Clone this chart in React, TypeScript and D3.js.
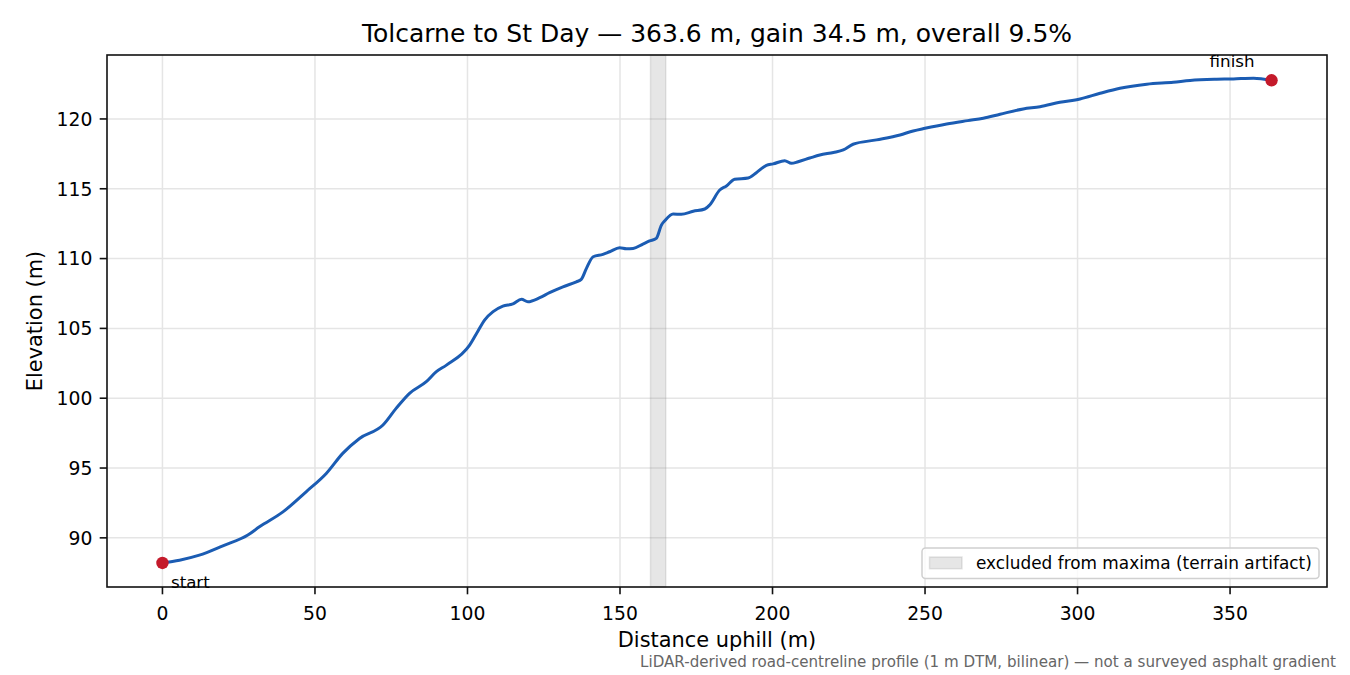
import React from "react";
import * as d3 from "d3";

const distances = [
  0, 5.6, 12.1, 19.8, 28, 31.8, 39.5, 47.1, 53.7, 59.1, 64.6, 72.3, 76.6, 81, 86.5, 89.8, 93.1,
  100.7, 103.4, 105.6, 108.4, 111.6, 114.9, 117.7, 119.8, 123.7, 126.9, 131.3, 135.7, 137.3, 139,
  141.2, 144.4, 146.6, 149.9, 152.1, 154.3, 157.5, 159.7, 161.9, 163.6, 164.7, 167.4, 170.1, 174,
  177.8, 179.4, 182.7, 184.9, 187.6, 192, 194.7, 198, 200.2, 204, 206.2, 208.4, 212.2, 215.5, 220,
  223.2, 226.4, 234.1, 241.8, 246.1, 250, 257.1, 264, 269.1, 274.6, 282.2, 287.7, 294.2, 300.8,
  307.4, 313.9, 322.7, 331.4, 336.9, 345.6, 351.1, 357.7, 363.6,
];
const elevations = [
  88.2, 88.4, 88.76, 89.43, 90.2, 90.79, 91.86, 93.3, 94.61, 96.05, 97.12, 98.08, 99.27, 100.35,
  101.18, 101.9, 102.37, 103.8, 104.8, 105.6, 106.2, 106.6, 106.75, 107.08, 106.91, 107.2, 107.56,
  107.98, 108.34, 108.51, 109.3, 110.13, 110.3, 110.49, 110.78, 110.71, 110.73, 111.04, 111.26,
  111.45, 112.41, 112.71, 113.19, 113.17, 113.39, 113.55, 113.84, 114.91, 115.2, 115.68, 115.77,
  116.15, 116.68, 116.78, 117.01, 116.82, 116.94, 117.2, 117.42, 117.6, 117.78, 118.19, 118.5,
  118.85, 119.14, 119.33, 119.64, 119.88, 120.05, 120.34, 120.72, 120.88, 121.19, 121.43, 121.84,
  122.2, 122.49, 122.63, 122.75, 122.84, 122.87, 122.92, 122.77,
];
const xTicks = [0, 50, 100, 150, 200, 250, 300, 350];
const yTicks = [90, 95, 100, 105, 110, 115, 120];
const excludedSpan = [160, 165];
const xDomain = [-18.18, 381.78];
const yDomain = [86.48, 124.58];

const titleText = "Tolcarne to St Day \u2014 363.6 m, gain 34.5 m, overall 9.5%";
const xLabel = "Distance uphill (m)";
const yLabel = "Elevation (m)";
const legendLabel = "excluded from maxima (terrain artifact)";
const footnote =
  "LiDAR-derived road-centreline profile (1 m DTM, bilinear) \u2014 not a surveyed asphalt gradient";

const W = 1350;
const H = 675;
const L = 107;
const R = 1327;
const T = 55;
const B = 587;
const FONT = "'DejaVu Sans', sans-serif";

export default function App() {
  const x = d3.scaleLinear().domain(xDomain).range([L, R]);
  const y = d3.scaleLinear().domain(yDomain).range([B, T]);
  const pts = distances.map((d, i) => [d, elevations[i]] as [number, number]);
  const line = d3
    .line<[number, number]>()
    .x((d) => x(d[0]))
    .y((d) => y(d[1]))
    .curve(d3.curveMonotoneX);
  const n = distances.length;
  const sx = x(distances[0]);
  const sy = y(elevations[0]);
  const fx = x(distances[n - 1]);
  const fy = y(elevations[n - 1]);
  const tickLen = 7.3;

  return (
    <svg
      width={W}
      height={H}
      style={{ position: "absolute", left: 0, top: 0, background: "#fff" }}
      fontFamily={FONT}
    >
      <rect x={0} y={0} width={W} height={H} fill="#fff" />
      <defs>
        <clipPath id="plotclip">
          <rect x={L} y={T} width={R - L} height={B - T} />
        </clipPath>
      </defs>
      {/* grid */}
      {xTicks.map((t) => (
        <line key={"gx" + t} x1={x(t)} x2={x(t)} y1={T} y2={B} stroke="#e5e5e5" strokeWidth={1.5} />
      ))}
      {yTicks.map((t) => (
        <line key={"gy" + t} x1={L} x2={R} y1={y(t)} y2={y(t)} stroke="#e5e5e5" strokeWidth={1.5} />
      ))}
      {/* excluded band */}
      <rect
        x={x(excludedSpan[0])}
        y={T}
        width={x(excludedSpan[1]) - x(excludedSpan[0])}
        height={B - T}
        fill="rgb(128,128,128)"
        fillOpacity={0.2}
        stroke="rgb(128,128,128)"
        strokeOpacity={0.2}
        strokeWidth={1.5}
      />
      {/* profile line */}
      <path
        d={line(pts) || ""}
        fill="none"
        stroke="#1b5cb3"
        strokeWidth={3}
        strokeLinejoin="round"
        strokeLinecap="round"
        clipPath="url(#plotclip)"
      />
      {/* endpoints */}
      <circle cx={sx} cy={sy} r={6.2} fill="#c41a2b" />
      <circle cx={fx} cy={fy} r={6.2} fill="#c41a2b" />
      {/* spines */}
      <rect x={L} y={T} width={R - L} height={B - T} fill="none" stroke="#111" strokeWidth={1.6} />
      {/* x ticks */}
      {xTicks.map((t) => (
        <g key={"tx" + t}>
          <line x1={x(t)} x2={x(t)} y1={B} y2={B + tickLen} stroke="#111" strokeWidth={1.6} />
          <text x={x(t)} y={620} fontSize={18.75} textAnchor="middle" fill="#000">
            {t}
          </text>
        </g>
      ))}
      {/* y ticks */}
      {yTicks.map((t) => (
        <g key={"ty" + t}>
          <line x1={L - tickLen} x2={L} y1={y(t)} y2={y(t)} stroke="#111" strokeWidth={1.6} />
          <text x={L - tickLen - 7.3} y={y(t) + 6.8} fontSize={18.75} textAnchor="end" fill="#000">
            {t}
          </text>
        </g>
      ))}
      {/* annotations */}
      <text x={sx + 8.5} y={588} fontSize={16.67} fill="#000">
        start
      </text>
      <text x={fx - 39.5} y={66.7} fontSize={16.67} textAnchor="middle" fill="#000">
        finish
      </text>
      {/* legend */}
      <rect x={922} y={548} width={397} height={30.5} rx={3.5} fill="#fff" fillOpacity={0.8} stroke="#d0d0d0" strokeWidth={1.5} />
      <rect
        x={929.5}
        y={557}
        width={32.5}
        height={11.7}
        fill="rgb(128,128,128)"
        fillOpacity={0.2}
        stroke="rgb(128,128,128)"
        strokeOpacity={0.2}
        strokeWidth={1.5}
      />
      <text x={976} y={569} fontSize={16.9} fill="#000">
        {legendLabel}
      </text>
      {/* titles */}
      <text x={(L + R) / 2} y={41.5} fontSize={25} textAnchor="middle" fill="#000">
        {titleText}
      </text>
      <text x={(L + R) / 2} y={647.3} fontSize={20.9} textAnchor="middle" fill="#000">
        {xLabel}
      </text>
      <text
        transform={`translate(41.5, ${(T + B) / 2}) rotate(-90)`}
        fontSize={20.9}
        textAnchor="middle"
        fill="#000"
      >
        {yLabel}
      </text>
      <text x={1336} y={666.5} fontSize={15.1} textAnchor="end" fill="#666">
        {footnote}
      </text>
    </svg>
  );
}
